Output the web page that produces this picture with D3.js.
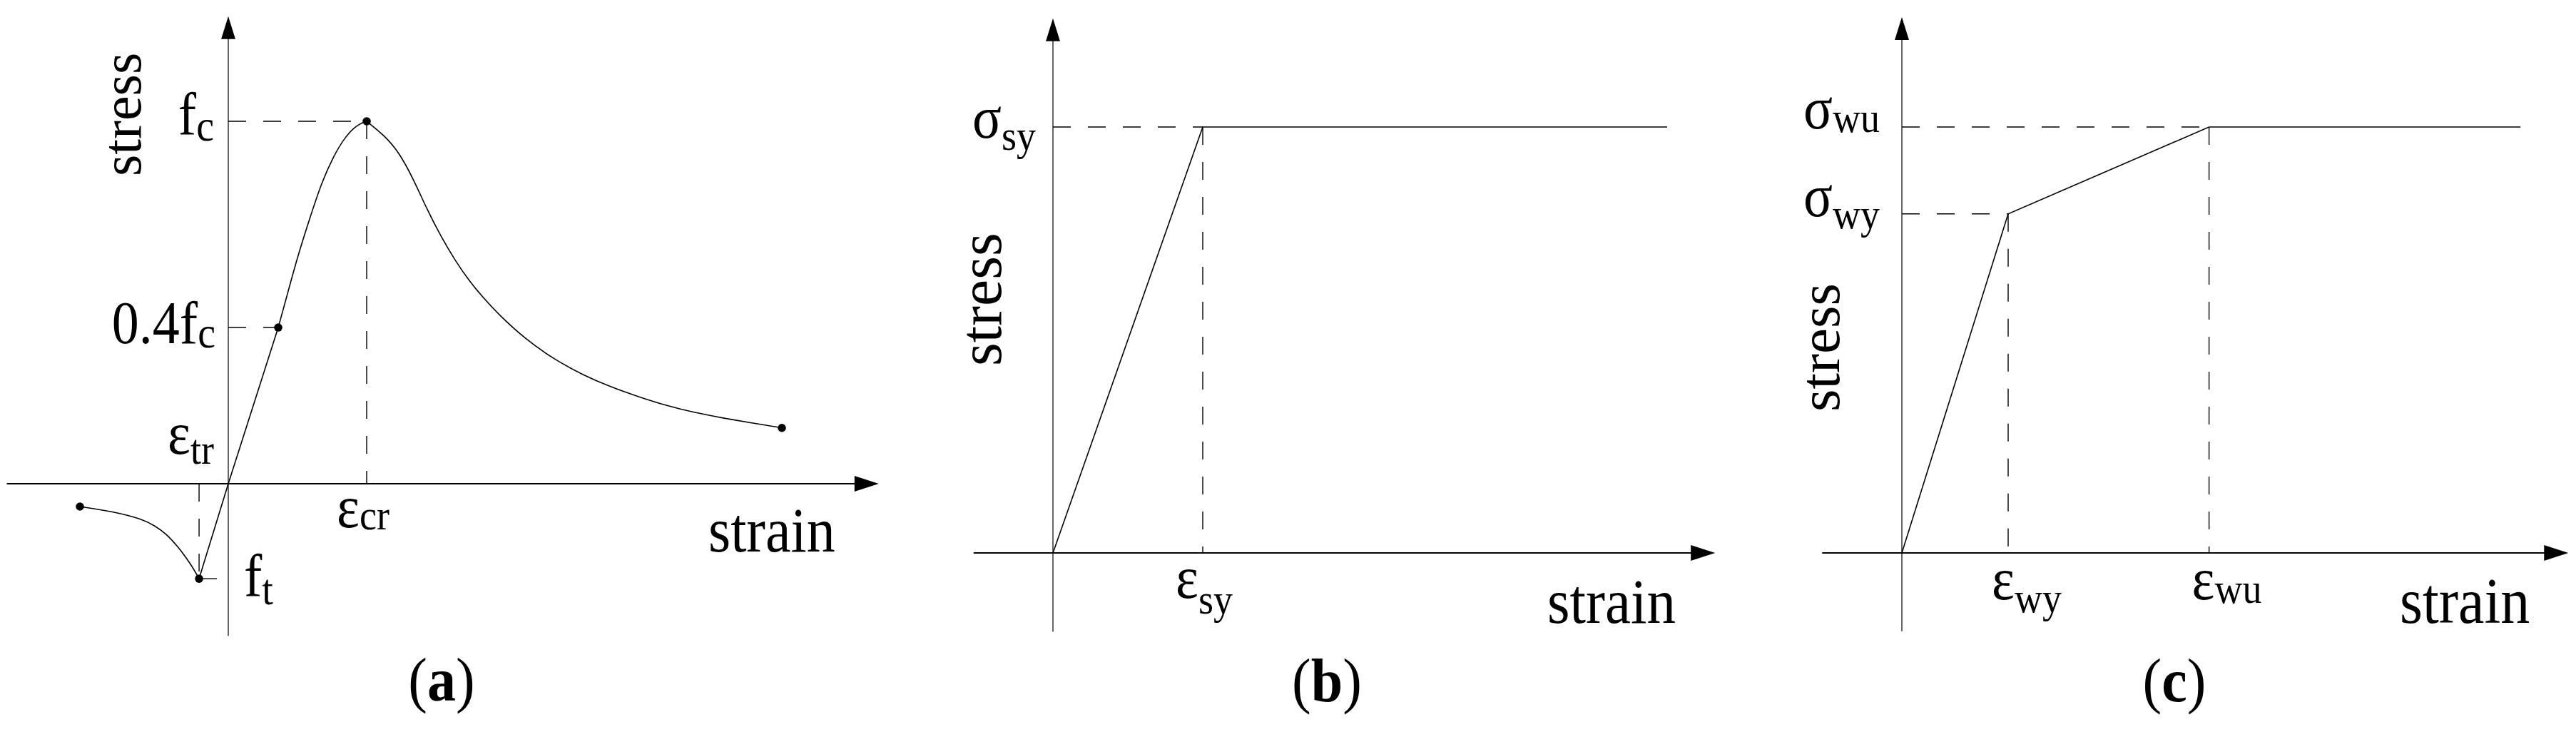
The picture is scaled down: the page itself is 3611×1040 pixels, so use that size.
<!DOCTYPE html>
<html>
<head>
<meta charset="utf-8">
<script src="https://cdn.jsdelivr.net/npm/d3@7/dist/d3.min.js"></script>
<style>
  body { margin: 0; background: #fff; }
  svg { display: block; }
  text { font-family: "Liberation Serif", "Times New Roman", Times, serif; fill: #000; }
</style>
</head>
<body>
<div id="chart"></div>
<script>
// ---- data (normalised units) ----

// (a) concrete: strain / eps_cr, stress / f_c
var concreteTension = [[-1.072,-0.063],[-0.825,-0.077],[-0.619,-0.098],[-0.531,-0.116],
                       [-0.448,-0.138],[-0.361,-0.175],[-0.273,-0.220],[-0.211,-0.262]];
var concreteLinear = [[-0.211,-0.262],[0,0],[0.361,0.431]];
var concreteRise = [[0.361,0.431],[0.418,0.510],[0.5,0.626],[0.582,0.724],[0.670,0.827],
                    [0.758,0.902],[0.840,0.955],[0.928,0.990],[1,1]];
var concreteFall = [[1,1],[1.134,0.959],[1.232,0.915],[1.335,0.843],[1.438,0.755],[1.541,0.679],
                    [1.639,0.616],[1.742,0.559],[1.845,0.512],[1.948,0.469],[2.149,0.398],
                    [2.356,0.343],[2.557,0.301],[2.763,0.267],[2.964,0.240],[3.170,0.215],
                    [3.371,0.196],[3.577,0.181],[3.778,0.168],[4.0,0.154]];
var concreteDots = [[-1.072,-0.063],[-0.211,-0.262],[0.361,0.431],[1,1],[4.0,0.154]];

// (b) reinforcing steel: strain / eps_sy, stress / sigma_sy
var steelCurve = [[0,0],[1,1],[4.1,1]];

// (c) wire: strain / eps_wy, stress / sigma_wu
var wireCurve = [[0,0],[1,0.796],[2.89,1],[5.82,1]];

var panelLetters = ["a", "b", "c"];

// ---- layout ----
var W = 3611, H = 1040;
var svg = d3.select("#chart").append("svg")
    .attr("width", W).attr("height", H)
    .attr("font-family", "'Liberation Serif', 'Times New Roman', Times, serif");

var dash = "25,24";

function makePanel(cfg){
    var g = svg.append("g");
    var x = d3.scaleLinear().domain([0, 1]).range(cfg.xr);
    var y = d3.scaleLinear().domain([0, 1]).range(cfg.yr);

    // axes
    var xTip = x(cfg.xExt[1]), yTip = y(cfg.yExt[1]);
    g.append("line").attr("x1", x(cfg.xExt[0])).attr("x2", xTip - 20)
        .attr("y1", y(0)).attr("y2", y(0))
        .attr("stroke", "#000").attr("stroke-width", 2.2);
    g.append("line").attr("x1", x(0)).attr("x2", x(0))
        .attr("y1", y(cfg.yExt[0])).attr("y2", yTip + 20)
        .attr("stroke", "#000").attr("stroke-width", 1.2);
    g.append("path")
        .attr("d", d3.line()([[xTip, y(0)], [xTip - 34, y(0) - 11], [xTip - 34, y(0) + 11]]) + "Z")
        .attr("fill", "#000");
    g.append("path")
        .attr("d", d3.line()([[x(0), yTip], [x(0) - 10, yTip + 32], [x(0) + 10, yTip + 32]]) + "Z")
        .attr("fill", "#000");

    // dashed guides
    cfg.guides.forEach(function(s){
        g.append("line")
            .attr("x1", x(s[0][0])).attr("y1", y(s[0][1]))
            .attr("x2", x(s[1][0])).attr("y2", y(s[1][1]))
            .attr("stroke", "#000").attr("stroke-width", 1.4)
            .attr("stroke-dasharray", dash);
    });

    // curves
    cfg.curves.forEach(function(c){
        g.append("path")
            .attr("d", d3.line().x(function(d){return x(d[0]);}).y(function(d){return y(d[1]);})
                .curve(c.curve)(c.data))
            .attr("fill", "none").attr("stroke", "#000").attr("stroke-width", 1.6);
    });

    g.selectAll("circle.dot").data(cfg.dots || []).enter().append("circle")
        .attr("cx", function(d){return x(d[0]);}).attr("cy", function(d){return y(d[1]);})
        .attr("r", 5.8).attr("fill", "#000");

    cfg.x = x; cfg.y = y; cfg.g = g;
    return cfg;
}

// horizontal label with optional subscript, slightly tall glyphs like the original
function label(g, px, py, main, sub, subDy, size, subSize, anchor){
    var t = g.append("text")
        .attr("transform", "translate(" + px + "," + py + ") scale(1,1.1)")
        .attr("text-anchor", anchor || "start")
        .attr("font-size", size || 76);
    t.append("tspan").text(main);
    if (sub) t.append("tspan").attr("font-size", subSize || 54).attr("dy", subDy / 1.1).text(sub);
    return t;
}

function rotLabel(g, px, py, txt, size){
    g.append("text")
        .attr("transform", "translate(" + px + "," + py + ") rotate(-90)")
        .attr("font-size", size).text(txt);
}

function caption(g, cx, py, letter){
    var t = g.append("text")
        .attr("transform", "translate(" + cx + "," + py + ") scale(1,1.08)")
        .attr("text-anchor", "middle").attr("font-size", 80);
    t.append("tspan").text("(");
    t.append("tspan").attr("font-weight", "bold").text(letter);
    t.append("tspan").text(")");
}

// ---- panel (a) ----
var ft = concreteLinear[0], p04 = concreteLinear[2];
var A = makePanel({
    xr: [320, 514], yr: [678, 170],
    xExt: [-1.6, 4.7], yExt: [-0.42, 1.29],
    guides: [
        [[0, 1], [1, 1]],
        [[1, 1], [1, 0]],
        [[0, p04[1]], [p04[0], p04[1]]],
        [[ft[0], ft[1]], [0, ft[1]]],
        [[ft[0], 0], [ft[0], ft[1]]]
    ],
    curves: [
        {data: concreteTension, curve: d3.curveBasis},
        {data: concreteLinear, curve: d3.curveLinear},
        {data: concreteRise, curve: d3.curveBasis},
        {data: concreteFall, curve: d3.curveBasis}
    ],
    dots: concreteDots
});
label(A.g, A.x(0) - 20, A.y(1) + 18, "f", "c", 9, 76, 56, "end");
label(A.g, A.x(0) - 18, A.y(p04[1]) + 22, "0.4f", "c", 6, 76, 56, "end");
label(A.g, A.x(ft[0]) - 44, A.y(0) - 42, "\u03b5", "tr", 14);
label(A.g, A.x(0) + 22, A.y(ft[1]) + 24, "f", "t", 12, 76, 56);
label(A.g, A.x(1) - 42, A.y(0) + 61, "\u03b5", "cr", 3);
label(A.g, 993, A.y(0) + 95, "strain", null, 0, 80);
rotLabel(A.g, A.x(0) - 123, 247, "stress", 78);
caption(A.g, 619, 982, panelLetters[0]);

// ---- panel (b) ----
var sy = steelCurve[1];
var B = makePanel({
    xr: [1476, 1686], yr: [775, 178],
    xExt: [-0.53, 4.42], yExt: [-0.185, 1.255],
    guides: [
        [[0, sy[1]], [sy[0], sy[1]]],
        [[sy[0], sy[1]], [sy[0], 0]]
    ],
    curves: [{data: steelCurve, curve: d3.curveLinear}]
});
label(B.g, B.x(0) - 113, B.y(1) + 15, "\u03c3", "sy", 17);
label(B.g, B.x(1) - 38, B.y(0) + 63, "\u03b5", "sy", 22);
label(B.g, 2169, B.y(0) + 98, "strain", null, 0, 81);
rotLabel(B.g, B.x(0) - 73, 513, "stress", 84);
caption(B.g, 1860, 983, panelLetters[1]);

// ---- panel (c) ----
var wy = wireCurve[1], wu = wireCurve[2];
var C = makePanel({
    xr: [2666, 2815], yr: [775, 178],
    xExt: [-0.75, 6.27], yExt: [-0.184, 1.258],
    guides: [
        [[0, wy[1]], [wy[0], wy[1]]],
        [[0, wu[1]], [wu[0], wu[1]]],
        [[wy[0], wy[1]], [wy[0], 0]],
        [[wu[0], wu[1]], [wu[0], 0]]
    ],
    curves: [{data: wireCurve, curve: d3.curveLinear}]
});
label(C.g, C.x(0) - 138, C.y(wu[1]) + 2, "\u03c3", "wu", 5);
label(C.g, C.x(0) - 138, C.y(wy[1]) + 3, "\u03c3", "wy", 17);
label(C.g, C.x(wy[0]) - 23, C.y(0) + 65, "\u03b5", "wy", 18);
label(C.g, C.x(wu[0]) - 24, C.y(0) + 65, "\u03b5", "wu", 5);
label(C.g, 3364, C.y(0) + 98, "strain", null, 0, 82);
rotLabel(C.g, C.x(0) - 88, 577, "stress", 81);
caption(C.g, 3048, 983, panelLetters[2]);
</script>
</body>
</html>
